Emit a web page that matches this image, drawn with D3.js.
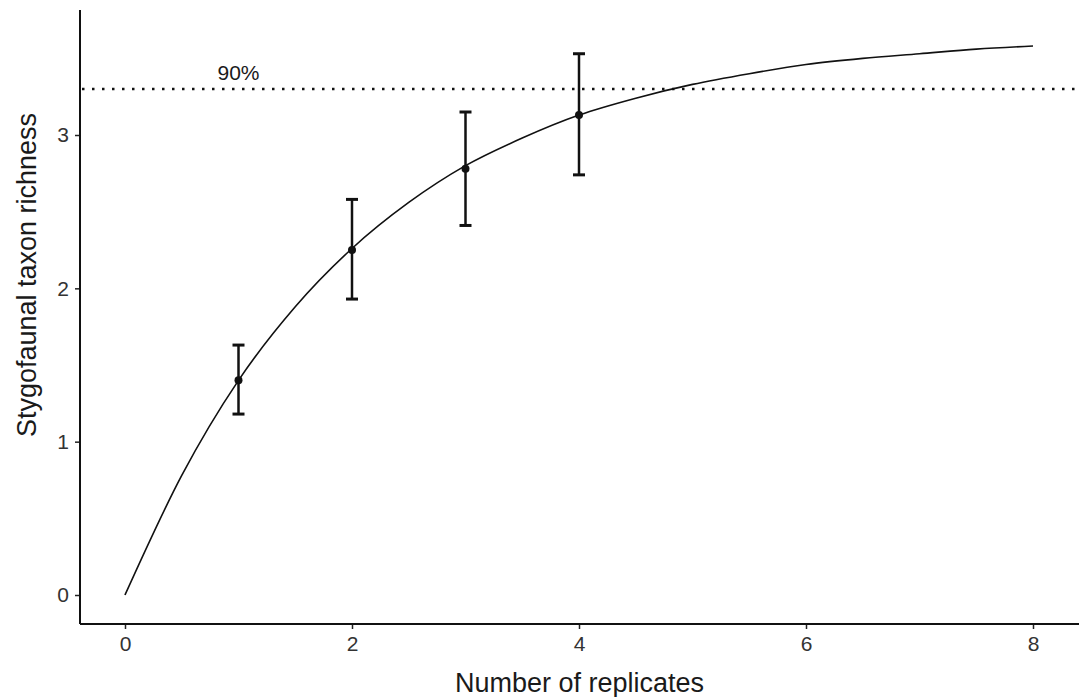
<!DOCTYPE html>
<html><head><meta charset="utf-8">
<script src="https://cdn.jsdelivr.net/npm/d3@7"></script>
<style>body{margin:0;background:#fff}svg{display:block}text{font-family:"Liberation Sans",Arial,sans-serif;fill:#1a1a1a}</style>
</head><body>
<svg id="c" width="1088" height="697"></svg>
<script>
const replicates = [1, 2, 3, 4];
const meanRichness = [1.40, 2.25, 2.78, 3.13];
const lowerCI = [1.18, 1.93, 2.41, 2.74];
const upperCI = [1.63, 2.58, 3.15, 3.53];
const curveX = [0, 0.5, 1, 1.5, 2, 2.5, 3, 3.5, 4, 4.5, 5, 5.5, 6, 6.5, 7, 7.5, 8];
const curveY = [0, 0.78, 1.40, 1.88, 2.26, 2.56, 2.80, 2.98, 3.13, 3.24, 3.33, 3.40, 3.46, 3.50, 3.53, 3.56, 3.58];
const xTicks = [0, 2, 4, 6, 8];
const yTicks = [0, 1, 2, 3];
const threshold = 3.30;
const thresholdLabel = "90%";

const svg = d3.select("#c");
const x = d3.scaleLinear().domain([0, 8]).range([125, 1033]);
const y = d3.scaleLinear().domain([0, 3]).range([595, 135]);
const axL = 80, axB = 624, axT = 10, axR = 1079;

// axes
const xa = svg.append("g").attr("transform", `translate(0,${axB})`)
  .call(d3.axisBottom(x).tickValues(xTicks).tickSize(5).tickPadding(7).tickFormat(d3.format("d")));
xa.select(".domain").remove();
xa.selectAll("line").attr("stroke", "#222").attr("stroke-width", 1.5);
xa.selectAll("text").attr("font-size", 21).style("fill", "#333");
svg.append("line").attr("x1", axL).attr("x2", axR).attr("y1", axB).attr("y2", axB).attr("stroke", "#111").attr("stroke-width", 2);

const ya = svg.append("g").attr("transform", `translate(${axL},0)`)
  .call(d3.axisLeft(y).tickValues(yTicks).tickSize(5).tickPadding(6).tickFormat(d3.format("d")));
ya.select(".domain").remove();
ya.selectAll("line").attr("stroke", "#222").attr("stroke-width", 1.5);
ya.selectAll("text").attr("font-size", 21).style("fill", "#333");
svg.append("line").attr("x1", axL).attr("x2", axL).attr("y1", axT).attr("y2", axB).attr("stroke", "#111").attr("stroke-width", 2);

// titles
svg.append("text").attr("x", (axL + axR) / 2).attr("y", 692).attr("text-anchor", "middle").attr("font-size", 27).text("Number of replicates");
svg.append("text").attr("transform", `translate(36,${(axT + axB) / 2 - 42}) rotate(-90)`).attr("text-anchor", "middle").attr("font-size", 27).text("Stygofaunal taxon richness");

// threshold line
svg.append("line").attr("x1", axL + 2).attr("x2", 1076).attr("y1", y(threshold)).attr("y2", y(threshold))
  .attr("stroke", "#111").attr("stroke-width", 2.5).attr("stroke-dasharray", "2.5,7.5");
svg.append("text").attr("x", x(1)).attr("y", y(threshold) - 9).attr("text-anchor", "middle").attr("font-size", 21).text(thresholdLabel);

// curve
const pts = curveX.map((d, i) => [d, curveY[i]]);
svg.append("path").datum(pts).attr("fill", "none").attr("stroke", "#111").attr("stroke-width", 1.6)
  .attr("d", d3.line().x(d => x(d[0])).y(d => y(d[1])).curve(d3.curveMonotoneX));

// error bars
const data = replicates.map((r, i) => ({r, m: meanRichness[i], lo: lowerCI[i], hi: upperCI[i]}));
const eb = svg.append("g");
data.forEach(d => {
  eb.append("line").attr("x1", x(d.r)).attr("x2", x(d.r)).attr("y1", y(d.lo)).attr("y2", y(d.hi)).attr("stroke", "#111").attr("stroke-width", 2.5);
  [d.lo, d.hi].forEach(v => eb.append("line").attr("x1", x(d.r) - 6).attr("x2", x(d.r) + 6).attr("y1", y(v)).attr("y2", y(v)).attr("stroke", "#111").attr("stroke-width", 3));
  eb.append("circle").attr("cx", x(d.r)).attr("cy", y(d.m)).attr("r", 4).attr("fill", "#111");
});
</script>
</body></html>
